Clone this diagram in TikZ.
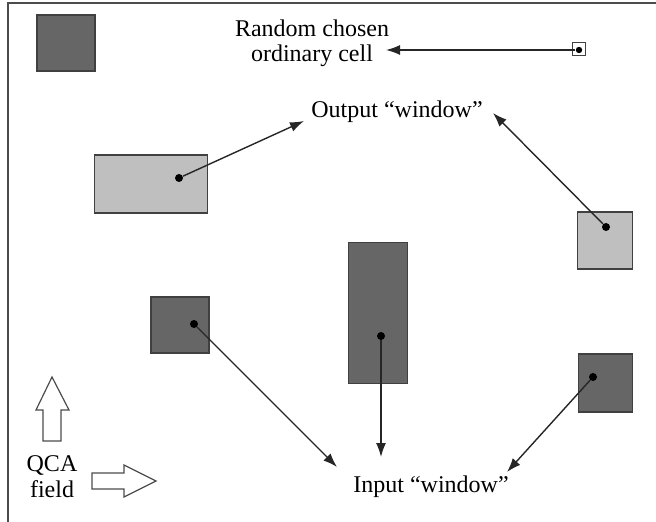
\documentclass[tikz,border=0pt]{standalone}
\usepackage{fontspec}
\setmainfont{Liberation Serif}
\usetikzlibrary{arrows.meta}

\begin{document}
\begin{tikzpicture}[
    x=0.5pt, y=-0.5pt,
    cell/.style={
        draw=black!75,
        line width=0.6pt,
        inner sep=0pt
    },
    darkcell/.style={cell, fill=black!60},
    lightcell/.style={cell, fill=black!25},
    dot/.style={circle, fill=black, inner sep=0pt, minimum size=4pt},
    txt/.style={font=\fontsize{12}{12.85}\selectfont, align=center, inner sep=0pt},
    link/.style={-{Latex[length=7pt,width=5pt]}, line width=0.7pt, draw=black!85},
    hollow/.style={draw=black!70, line width=0.6pt, fill=white}
]

\useasboundingbox (0,0) rectangle (656,522);

% Field border
\draw[black!70, line width=0.8pt] (8,522) -- (8,3) -- (656,3);

% Cells
\node[darkcell, minimum width=29pt, minimum height=28pt] (cellA) at (66,43) {};
\node[lightcell, minimum width=56.5pt, minimum height=29pt] (cellB) at (151,184) {};
\node[lightcell, minimum width=27.5pt, minimum height=28.5pt] (cellC) at (605,240.5) {};
\node[darkcell, minimum width=29pt, minimum height=28pt] (cellD) at (180,325) {};
\node[darkcell, minimum width=29.5pt, minimum height=70.5pt] (cellE) at (378,313) {};
\node[darkcell, minimum width=27pt, minimum height=29pt] (cellF) at (605.5,383) {};
\node[cell, fill=white, line width=0.8pt, minimum size=6.5pt] (cellG) at (579,49) {};

% Dots
\node[dot] (dotB) at (179,178) {};
\node[dot] (dotC) at (606,227) {};
\node[dot] (dotD) at (194,324) {};
\node[dot] (dotE) at (381,336) {};
\node[dot] (dotF) at (593,377) {};
\node[dot, minimum size=3.2pt] (dotG) at (579,50) {};

% Texts (base anchor sits on the last line)
\node[txt, anchor=base] (chosen) at (312,62) {Random chosen\\ordinary cell};
\node[txt, anchor=base] (output) at (397,118) {Output “window”};
\node[txt, anchor=base] (input) at (431,492) {Input “window”};
\node[txt, anchor=base] (field) at (52,497) {QCA\\field};

% Arrow ends
\coordinate (chosenE) at (386,50);
\coordinate (outW) at (304,121);
\coordinate (outE) at (493,113);
\coordinate (inNW) at (337,467);
\coordinate (inN) at (381,457);
\coordinate (inNE) at (507,472);

% Connectors
\draw[link] (dotG) -- (chosenE);
\draw[link] (dotB) -- (outW);
\draw[link] (dotC) -- (outE);
\draw[link] (dotD) -- (inNW);
\draw[link] (dotE) -- (inN);
\draw[link] (dotF) -- (inNE);

% Field direction arrows
\draw[hollow] (52,377) -- (69,410) -- (61,410) -- (61,441) -- (43,441) -- (43,410) -- (36,410) -- cycle;
\draw[hollow] (156,481) -- (124,465) -- (124,473) -- (92,473) -- (92,489) -- (124,489) -- (124,497) -- cycle;

\end{tikzpicture}
\end{document}
